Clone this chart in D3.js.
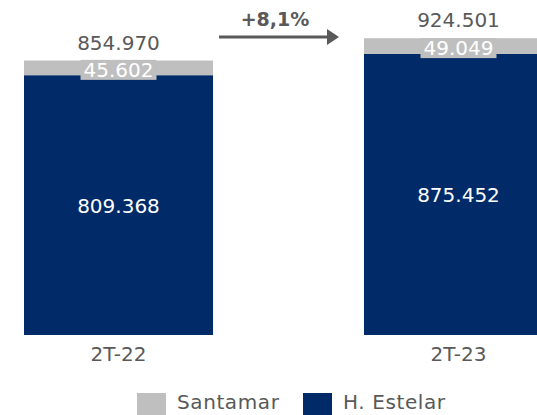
<!DOCTYPE html>
<html><head><meta charset="utf-8">
<script src="https://cdn.jsdelivr.net/npm/d3@7"></script>
<style>html,body{margin:0;padding:0;background:#fff;overflow:hidden}</style>
</head><body>
<svg id="c" width="537" height="415"></svg>
<script>
const categories = ["2T-22", "2T-23"];
const santamar = [45602, 49049];
const estelar = [809368, 875452];
const totals = [854970, 924501];
const growthLabel = "+8,1%";
const seriesNames = ["Santamar", "H. Estelar"];
const fmt = v => d3.format(",")(v).replace(/,/g, ".");

const FONT = "'DejaVu Sans', sans-serif";
const NAVY = "#002B68", GRAY = "#BFBFBF", TXT = "#595959";
const svg = d3.select("#c");

const x = d3.scaleBand().domain(categories).range([24, 553]).paddingInner(0.444).paddingOuter(0);
const y = d3.scaleLinear().domain([0, 1000000]).range([335, 14]);

const g = svg.append("g");
// navy segments
g.selectAll(".est").data(categories).join("rect")
  .attr("x", d => x(d)).attr("width", x.bandwidth())
  .attr("y", (d,i) => y(estelar[i])).attr("height", (d,i) => y(0) - y(estelar[i]))
  .attr("fill", NAVY);
// gray segments
g.selectAll(".san").data(categories).join("rect")
  .attr("x", d => x(d)).attr("width", x.bandwidth())
  .attr("y", (d,i) => y(estelar[i] + santamar[i])).attr("height", (d,i) => y(estelar[i]) - y(estelar[i] + santamar[i]))
  .attr("fill", GRAY);

// navy labels
g.selectAll(".estl").data(categories).join("text")
  .attr("x", d => x(d) + x.bandwidth()/2)
  .attr("y", (d,i) => (y(0) + y(estelar[i]))/2 + 8)
  .attr("text-anchor", "middle").attr("font-family", FONT).attr("font-size", 20)
  .attr("fill", "#fff").text((d,i) => fmt(estelar[i]));

// santamar labels with bg
categories.forEach((c, i) => {
  const cy = (y(estelar[i]) + y(estelar[i] + santamar[i]))/2 + 2;
  const t = g.append("text")
    .attr("x", x(c) + x.bandwidth()/2).attr("y", cy + 7)
    .attr("text-anchor", "middle").attr("font-family", FONT).attr("font-size", 20)
    .attr("fill", "#fff").text(fmt(santamar[i]));
  const w = t.node().getComputedTextLength();
  g.insert("rect", () => t.node())
    .attr("x", x(c) + x.bandwidth()/2 - w/2 - 3).attr("width", w + 6)
    .attr("y", cy - 10).attr("height", 20).attr("fill", GRAY);
});

// totals
g.selectAll(".tot").data(categories).join("text")
  .attr("x", d => x(d) + x.bandwidth()/2)
  .attr("y", (d,i) => y(totals[i]) - 11)
  .attr("text-anchor", "middle").attr("font-family", FONT).attr("font-size", 20)
  .attr("fill", TXT).text((d,i) => fmt(totals[i]));

// category axis labels
g.selectAll(".cat").data(categories).join("text")
  .attr("x", d => x(d) + x.bandwidth()/2).attr("y", 361)
  .attr("text-anchor", "middle").attr("font-family", FONT).attr("font-size", 20)
  .attr("fill", TXT).text(d => d);

// growth arrow
const ax0 = x(categories[0]) + x.bandwidth() + 6, ax1 = x(categories[1]) - 25;
const ay = 37;
g.append("line").attr("x1", ax0).attr("x2", ax1 - 10).attr("y1", ay).attr("y2", ay)
  .attr("stroke", TXT).attr("stroke-width", 3);
g.append("path").attr("d", `M${ax1-12},${ay-8}L${ax1},${ay}L${ax1-12},${ay+8}Z`).attr("fill", TXT);
g.append("text").attr("x", (ax0 + ax1)/2 - 4).attr("y", 26)
  .attr("text-anchor", "middle").attr("font-family", FONT).attr("font-size", 19).attr("font-weight", "bold")
  .attr("fill", TXT).text(growthLabel);

// legend
const legend = [{name: seriesNames[0], color: GRAY, x: 137}, {name: seriesNames[1], color: NAVY, x: 303}];
legend.forEach(l => {
  g.append("rect").attr("x", l.x).attr("y", 393).attr("width", 29).attr("height", 24).attr("fill", l.color);
  g.append("text").attr("x", l.x + 40).attr("y", 409).attr("font-family", FONT).attr("font-size", 20)
    .attr("letter-spacing", 0.6).attr("fill", TXT).text(l.name);
});
</script>
</body></html>
